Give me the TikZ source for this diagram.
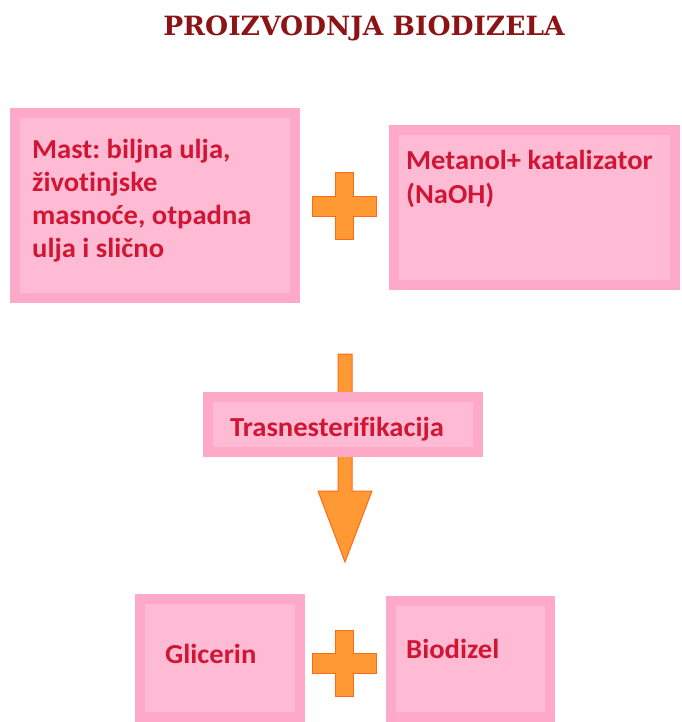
\documentclass[tikz,border=0pt]{standalone}
\usepackage{fontspec}
\usepackage{xcolor}
\usepackage{tikz}
\usetikzlibrary{arrows}
\newfontfamily\boxfont[Ligatures=NoCommon,FakeStretch=1.04]{Carlito}
\newfontfamily\titlefont{DejaVu Serif}
\definecolor{boxedge}{RGB}{255,169,201}
\definecolor{boxfill}{RGB}{255,187,212}
\definecolor{boxtext}{RGB}{208,22,52}
\definecolor{plusfill}{RGB}{255,153,51}
\definecolor{plusedge}{RGB}{255,106,26}
\definecolor{titlered}{RGB}{140,20,22}
\frenchspacing
\newcommand{\plusmark}[1]{%
  \filldraw[plussign] ([shift={(-9,-33)}]#1) -- ++(18,0) -- ++(0,23) -- ++(23,0)
    -- ++(0,20) -- ++(-23,0) -- ++(0,23) -- ++(-18,0) -- ++(0,-23) -- ++(-23,0)
    -- ++(0,-20) -- ++(23,0) -- cycle;}

\begin{document}
\begin{tikzpicture}[x=1pt,y=-1pt,
    pinkbox/.style={draw=boxedge,line width=10pt,fill=boxfill,inner sep=0pt},
    boxlabel/.style={anchor=base west,inner sep=0pt,text=boxtext,align=left,
      font=\boxfont\bfseries\fontsize{27.5}{33}\selectfont},
    plussign/.style={fill=plusfill,draw=plusedge,line width=1pt}]
  \useasboundingbox (0,0) rectangle (681,722);
  \clip (0,0) rectangle (681,722);
  \node[text=titlered,font=\titlefont\bfseries\fontsize{26.5}{30}\selectfont] (title) at (364,28) {PROIZVODNJA BIODIZELA};
  % ulazi
  \node[pinkbox,minimum width=280pt,minimum height=185pt] (fat) at (155,205.5) {};
  \node[pinkbox,minimum width=281pt,minimum height=155pt] (methanol) at (534.5,207.5) {};
  \node[boxlabel] (fattext) at (32,257) {Mast: biljna ulja,\\životinjske\\masnoće, otpadna\\ulja i slično};
  \node[boxlabel] (methanoltext) at (406,203) {Metanol+ katalizator\\(NaOH)};
  \coordinate (plusA) at (344,206);
  \plusmark{plusA}
  % reakcija
  \coordinate (arrowtop) at (345,354);
  \coordinate (arrowtip) at (345,562);
  \filldraw[plussign] ([shift={(-7,0)}]arrowtop) -- ([shift={(7,0)}]arrowtop)
    -- ([shift={(7,-71)}]arrowtip) -- ([shift={(27,-71)}]arrowtip) -- (arrowtip)
    -- ([shift={(-27,-71)}]arrowtip) -- ([shift={(-7,-71)}]arrowtip) -- cycle;
  \node[pinkbox,minimum width=270pt,minimum height=55pt] (trans) at (343,424.5) {};
  \node[boxlabel] (transtext) at (230,436) {Trasnesterifikacija};
  % produkti
  \node[pinkbox,minimum width=160pt,minimum height=118pt] (glycerol) at (220,658) {};
  \node[pinkbox,minimum width=159pt,minimum height=116pt] (biodiesel) at (470.5,659) {};
  \node[boxlabel] (glyceroltext) at (165,663) {Glicerin};
  \node[boxlabel] (biodieseltext) at (406,658) {Biodizel};
  \coordinate (plusB) at (344,663.5);
  \plusmark{plusB}
\end{tikzpicture}
\end{document}
